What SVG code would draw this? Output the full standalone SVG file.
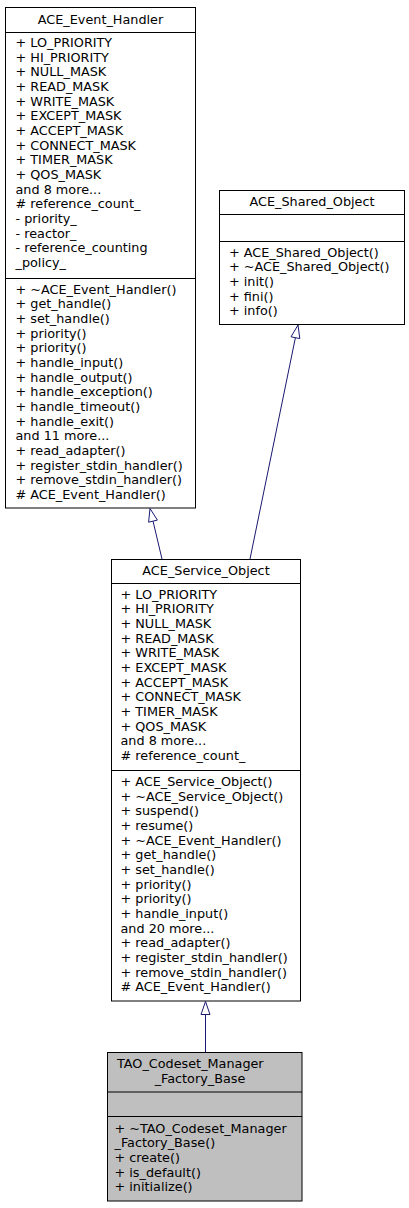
<svg xmlns="http://www.w3.org/2000/svg" width="409" height="1208" viewBox="0 0 409 1208">
<style>
.box{fill:#ffffff;stroke:#000000;stroke-width:1}
.cur{fill:#bfbfbf;stroke:#000000;stroke-width:1}
.div{stroke:#000000;stroke-width:1}
text{font-family:"DejaVu Sans",Verdana,sans-serif;font-size:12.8px;fill:#000000}
.t{text-anchor:middle}
.edge{fill:none;stroke:#191970;stroke-width:1}
.head{fill:#ffffff;stroke:#191970;stroke-width:1}
</style>
<rect width="409" height="1208" fill="#ffffff"/>
<g id="ACE_Event_Handler">
<rect class="box" x="5.5" y="7.5" width="190" height="500.5"/>
<line class="div" x1="5.5" y1="32.5" x2="195.5" y2="32.5"/>
<line class="div" x1="5.5" y1="278.5" x2="195.5" y2="278.5"/>
<text class="t" x="100.5" y="23.5">ACE_Event_Handler</text>
<text x="15.5" y="47"><tspan x="15.5">+ LO_PRIORITY</tspan><tspan x="15.5" dy="14.667">+ HI_PRIORITY</tspan><tspan x="15.5" dy="14.667">+ NULL_MASK</tspan><tspan x="15.5" dy="14.667">+ READ_MASK</tspan><tspan x="15.5" dy="14.667">+ WRITE_MASK</tspan><tspan x="15.5" dy="14.667">+ EXCEPT_MASK</tspan><tspan x="15.5" dy="14.667">+ ACCEPT_MASK</tspan><tspan x="15.5" dy="14.667">+ CONNECT_MASK</tspan><tspan x="15.5" dy="14.667">+ TIMER_MASK</tspan><tspan x="15.5" dy="14.667">+ QOS_MASK</tspan><tspan x="15.5" dy="14.667">and 8 more...</tspan><tspan x="15.5" dy="14.667"># reference_count_</tspan><tspan x="15.5" dy="14.667">- priority_</tspan><tspan x="15.5" dy="14.667">- reactor_</tspan><tspan x="15.5" dy="14.667">- reference_counting</tspan><tspan x="15.5" dy="14.667">_policy_</tspan></text>
<text x="15.5" y="293.5"><tspan x="15.5">+ ~ACE_Event_Handler()</tspan><tspan x="15.5" dy="14.667">+ get_handle()</tspan><tspan x="15.5" dy="14.667">+ set_handle()</tspan><tspan x="15.5" dy="14.667">+ priority()</tspan><tspan x="15.5" dy="14.667">+ priority()</tspan><tspan x="15.5" dy="14.667">+ handle_input()</tspan><tspan x="15.5" dy="14.667">+ handle_output()</tspan><tspan x="15.5" dy="14.667">+ handle_exception()</tspan><tspan x="15.5" dy="14.667">+ handle_timeout()</tspan><tspan x="15.5" dy="14.667">+ handle_exit()</tspan><tspan x="15.5" dy="14.667">and 11 more...</tspan><tspan x="15.5" dy="14.667">+ read_adapter()</tspan><tspan x="15.5" dy="14.667">+ register_stdin_handler()</tspan><tspan x="15.5" dy="14.667">+ remove_stdin_handler()</tspan><tspan x="15.5" dy="14.667"># ACE_Event_Handler()</tspan></text>
</g>
<g id="ACE_Shared_Object">
<rect class="box" x="219.5" y="190.5" width="185" height="134"/>
<line class="div" x1="219.5" y1="214.5" x2="404.5" y2="214.5"/>
<line class="div" x1="219.5" y1="241.5" x2="404.5" y2="241.5"/>
<text class="t" x="312" y="206">ACE_Shared_Object</text>
<text x="229" y="256.5"><tspan x="229">+ ACE_Shared_Object()</tspan><tspan x="229" dy="14.667">+ ~ACE_Shared_Object()</tspan><tspan x="229" dy="14.667">+ init()</tspan><tspan x="229" dy="14.667">+ fini()</tspan><tspan x="229" dy="14.667">+ info()</tspan></text>
</g>
<g id="ACE_Service_Object">
<rect class="box" x="111.5" y="559.5" width="189" height="441.5"/>
<line class="div" x1="111.5" y1="583.5" x2="300.5" y2="583.5"/>
<line class="div" x1="111.5" y1="770.5" x2="300.5" y2="770.5"/>
<text class="t" x="206" y="575">ACE_Service_Object</text>
<text x="120.5" y="598.5"><tspan x="120.5">+ LO_PRIORITY</tspan><tspan x="120.5" dy="14.667">+ HI_PRIORITY</tspan><tspan x="120.5" dy="14.667">+ NULL_MASK</tspan><tspan x="120.5" dy="14.667">+ READ_MASK</tspan><tspan x="120.5" dy="14.667">+ WRITE_MASK</tspan><tspan x="120.5" dy="14.667">+ EXCEPT_MASK</tspan><tspan x="120.5" dy="14.667">+ ACCEPT_MASK</tspan><tspan x="120.5" dy="14.667">+ CONNECT_MASK</tspan><tspan x="120.5" dy="14.667">+ TIMER_MASK</tspan><tspan x="120.5" dy="14.667">+ QOS_MASK</tspan><tspan x="120.5" dy="14.667">and 8 more...</tspan><tspan x="120.5" dy="14.667"># reference_count_</tspan></text>
<text x="120.5" y="786"><tspan x="120.5">+ ACE_Service_Object()</tspan><tspan x="120.5" dy="14.667">+ ~ACE_Service_Object()</tspan><tspan x="120.5" dy="14.667">+ suspend()</tspan><tspan x="120.5" dy="14.667">+ resume()</tspan><tspan x="120.5" dy="14.667">+ ~ACE_Event_Handler()</tspan><tspan x="120.5" dy="14.667">+ get_handle()</tspan><tspan x="120.5" dy="14.667">+ set_handle()</tspan><tspan x="120.5" dy="14.667">+ priority()</tspan><tspan x="120.5" dy="14.667">+ priority()</tspan><tspan x="120.5" dy="14.667">+ handle_input()</tspan><tspan x="120.5" dy="14.667">and 20 more...</tspan><tspan x="120.5" dy="14.667">+ read_adapter()</tspan><tspan x="120.5" dy="14.667">+ register_stdin_handler()</tspan><tspan x="120.5" dy="14.667">+ remove_stdin_handler()</tspan><tspan x="120.5" dy="14.667"># ACE_Event_Handler()</tspan></text>
</g>
<g id="TAO_Codeset_Manager_Factory_Base">
<rect class="cur" x="107.5" y="1052.5" width="194.5" height="148.5"/>
<line class="div" x1="107.5" y1="1092" x2="302" y2="1092"/>
<line class="div" x1="107.5" y1="1116.5" x2="302" y2="1116.5"/>
<text x="117" y="1068">TAO_Codeset_Manager</text>
<text class="t" x="200" y="1082.5">_Factory_Base</text>
<text x="114.5" y="1132.5"><tspan x="114.5">+ ~TAO_Codeset_Manager</tspan><tspan x="114.5" dy="14.667">_Factory_Base()</tspan><tspan x="114.5" dy="14.667">+ create()</tspan><tspan x="114.5" dy="14.667">+ is_default()</tspan><tspan x="114.5" dy="14.667">+ initialize()</tspan></text>
</g>
<g id="connectors">
<line class="edge" x1="162" y1="559" x2="153" y2="521.1"/>
<polygon class="head" points="150,508.5 157.4,520.1 148.6,522.2"/>
<line class="edge" x1="250" y1="559" x2="295.4" y2="337.7"/>
<polygon class="head" points="298,325 299.8,338.6 291,336.8"/>
<line class="edge" x1="205.5" y1="1052" x2="205.5" y2="1014.5"/>
<polygon class="head" points="205.5,1001.5 210,1014.5 201,1014.5"/>
</g>
</svg>
